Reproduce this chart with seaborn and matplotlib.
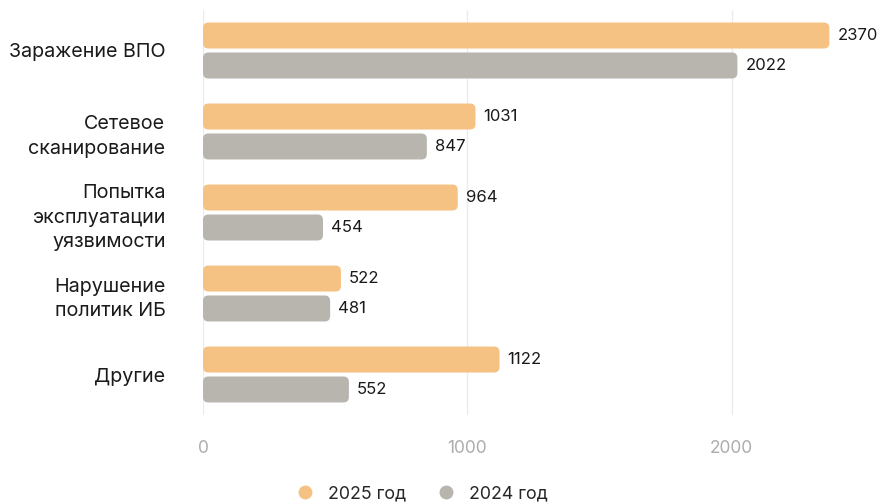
import matplotlib
matplotlib.use("Agg")
import matplotlib.pyplot as plt
from matplotlib.patches import FancyBboxPatch
from matplotlib.lines import Line2D
import seaborn as sns
import pandas as pd

categories = ["Заражение ВПО", "Сетевое\nсканирование", "Попытка\nэксплуатации\nуязвимости",
              "Нарушение\nполитик ИБ", "Другие"]
series_names = ["2025 год", "2024 год"]
values_2025 = [2370, 1031, 964, 522, 1122]
values_2024 = [2022, 847, 454, 481, 552]
xticks = [0, 1000, 2000]
colors = ["#F6C284", "#B8B4AE"]

df = pd.DataFrame({
    "cat": categories * 2,
    "series": [series_names[0]] * len(categories) + [series_names[1]] * len(categories),
    "value": values_2025 + values_2024,
})

sns.set_theme(style="white")
plt.rcParams["font.family"] = ["Inter", "DejaVu Sans"]

fig = plt.figure(figsize=(8.79, 5.04), dpi=100)
W, H = 879, 504
left, right, top, bottom = 203, 869, 10, 415
ax = fig.add_axes([left / W, 1 - bottom / H, (right - left) / W, (bottom - top) / H])

sns.barplot(data=df, y="cat", x="value", hue="series", palette=colors, width=0.74,
            orient="h", ax=ax, legend=False, saturation=1)

ax.set_xlim(0, 2520)
ax.set_ylim(len(categories) - 0.5, -0.5)

xpx = (right - left) / 2520.0
ypx = (bottom - top) / len(categories)
radius_px = 5.5
bar_h = 26.0 / ypx

patches = [p for p in ax.patches]
for p in patches:
    x0, y0 = p.get_x(), p.get_y()
    w, h = p.get_width(), p.get_height()
    if w <= 0:
        p.remove()
        continue
    fc = p.get_facecolor()
    cy = y0 + h / 2
    p.remove()
    r = radius_px / xpx
    aspect = (radius_px / ypx) / r
    fb = FancyBboxPatch((x0, cy - bar_h / 2), w, bar_h,
                        boxstyle=f"round,pad=0,rounding_size={r}",
                        mutation_aspect=aspect, facecolor=fc, edgecolor="none", zorder=3)
    ax.add_patch(fb)
    ax.text(x0 + w + 8 / xpx, cy, f"{int(round(w))}", va="center", ha="left",
            fontsize=12, color="#1a1a1a", zorder=4)

ax.set_xticks(xticks)
ax.set_xticklabels([str(t) for t in xticks])
ax.tick_params(axis="x", length=0, pad=18, labelsize=12.5, labelcolor="#ADADAD")
ax.tick_params(axis="y", length=0, pad=27, labelsize=14.2, labelcolor="#1a1a1a")
for lab in ax.get_yticklabels():
    lab.set_linespacing(1.45)
ax.set_xlabel("")
ax.set_ylabel("")
for s in ax.spines.values():
    s.set_visible(False)
for t in xticks:
    ax.axvline(t, color="#EBEBEB", lw=1, zorder=0)

handles = [Line2D([0], [0], marker="o", linestyle="none", markersize=10,
                  markerfacecolor=c, markeredgecolor="none") for c in colors]
fig.legend(handles, series_names, loc="center", bbox_to_anchor=(422 / W, 1 - 494 / H),
           ncol=2, frameon=False, fontsize=12.8, handlelength=1.0, handletextpad=0.8,
           columnspacing=1.75)

fig.savefig("out.png", dpi=100)
